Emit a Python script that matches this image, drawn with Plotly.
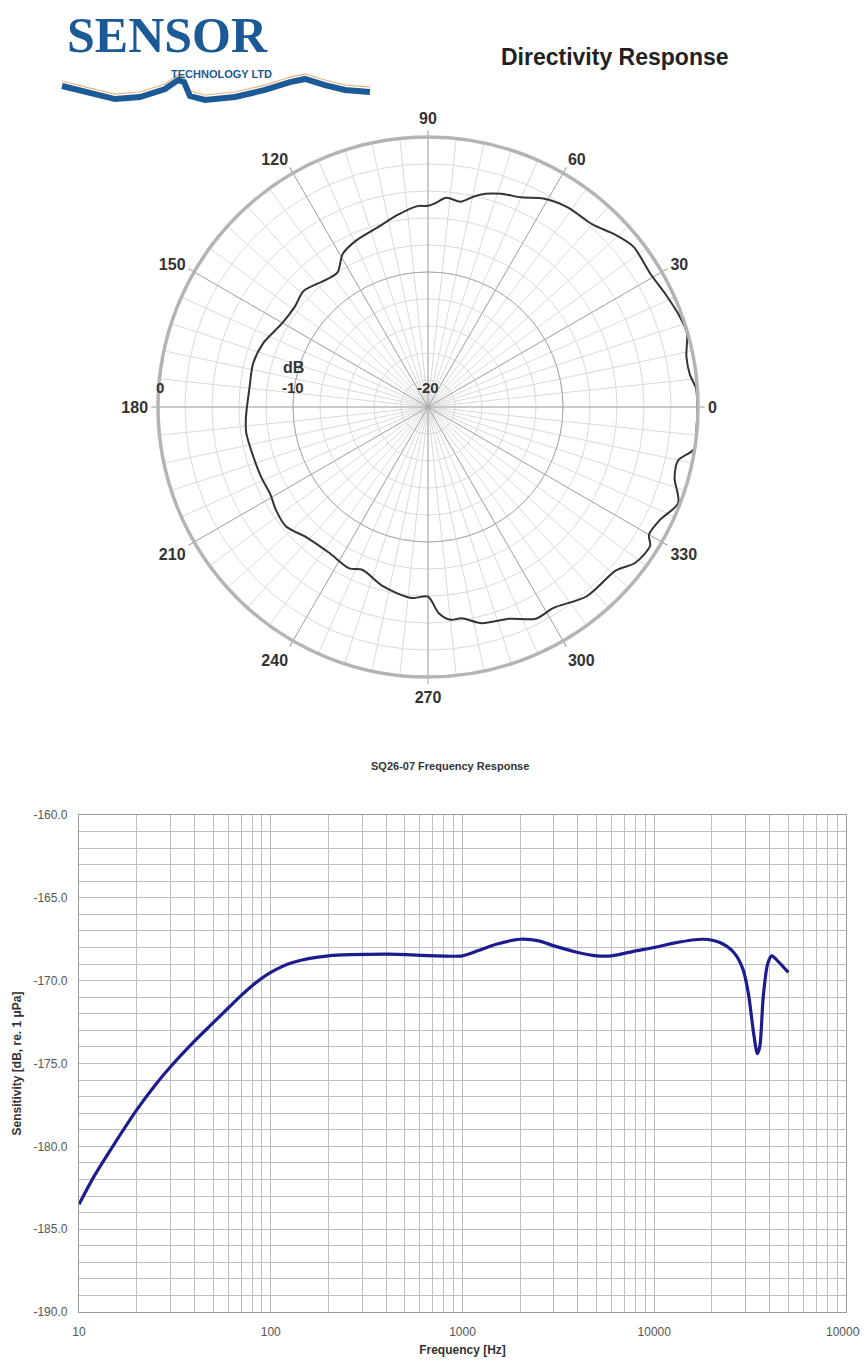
import plotly.graph_objects as go

# page body has an 8px margin, so the figure is drawn 8px in from the corner
OFF = 8
W, H = 868 - OFF, 1367 - OFF

# directivity response: angle (deg) vs level (dB)
dir_angle = [0, 4, 7, 11, 16, 20, 25, 31, 38, 43, 48, 55, 61, 66, 71, 75, 78, 81, 85, 88,
             90, 93, 99, 106, 113, 119, 124, 129, 137, 143, 150, 159, 166, 174, 183, 188,
             196, 203, 209, 214, 220, 227, 236, 244, 248, 256, 265, 270, 273, 276, 279,
             284, 291, 297, 302, 310, 319, 323, 328, 330, 334, 339, 344, 348, 351, 355, 360]
dir_db = [-0.05, -0.1, -0.45, -0.5, -0.05, -0.2, -0.5, -0.8, -0.7, -1.2, -1.8, -1.95, -2.35, -3.0, -3.3, -3.65, -4.1, -4.6, -4.45, -4.9,
          -5.1, -5.1, -5.6, -6.2, -6.55, -7.0, -8.0, -7.9, -7.4, -7.65, -7.55, -6.9, -6.65, -6.7, -6.5, -6.4,
          -6.55, -6.6, -6.65, -6.4, -6.25, -6.8, -6.95, -6.7, -7.0, -6.3, -5.8, -5.95, -4.7, -4.15, -4.15,
          -3.5, -3.2, -2.4, -2.45, -1.7, -1.55, -0.8, -0.6, -1.1, -0.9, -0.15, -1.0, -1.05, -0.05, -0.05, -0.05]
angle_ticks = [0, 30, 60, 90, 120, 150, 180, 210, 240, 270, 300, 330]
angle_text = ['0', '30', '60', '90', '120', '150', '180', '210', '240', '270', '300', '330']
radial_ticks = [-20, -10, 0]
radial_text = ['-20', '-10', '0']

# SQ26-07 frequency response
freq = [10, 12, 15, 20, 25, 30, 40, 50, 60, 70, 80, 100, 130, 200, 400, 1000, 1200,
        1500, 2000, 2500, 3000, 4000, 5000, 6000, 8000, 10000, 13000, 18000, 22000, 26000, 29000,
        31000, 33000, 34500, 35500, 37000, 39000, 41000, 44000, 50000]
sens = [-183.5, -181.8, -180.0, -177.8, -176.3, -175.2, -173.65, -172.55, -171.65, -170.9, -170.3, -169.5, -168.9, -168.5, -168.4, -168.5, -168.2,
        -167.8, -167.5, -167.6, -167.9, -168.3, -168.5, -168.5, -168.2, -168.0, -167.7, -167.5, -167.7, -168.3, -169.3,
        -170.8, -173.2, -174.4, -174.0, -171.0, -169.0, -168.5, -168.8, -169.5]
y_ticks = [-190, -185, -180, -175, -170, -165, -160]
y_text = ['-190.0', '-185.0', '-180.0', '-175.0', '-170.0', '-165.0', '-160.0']
x_ticks = [10, 100, 1000, 10000, 100000]
x_text = ['10', '100', '1000', '10000', '100000']


def px(x):
    return (x - OFF) / W


def py(y):
    return 1 - (y - OFF) / H


def path(points):
    return 'M ' + ' L '.join(f'{px(a):.4f},{py(b):.4f}' for a, b in points)


def label(x, y, text, size, color='#333333', family='Liberation Sans, Arial'):
    fig.add_annotation(x=px(x), y=py(y), xref='paper', yref='paper', showarrow=False,
                       xanchor='center', yanchor='middle', text=text,
                       font=dict(family=family, size=size, color=color, weight='bold'))


fig = go.Figure()

# lower polar only carries the light grid; keep a trace on it so it gets drawn
fig.add_trace(go.Scatterpolar(r=dir_db, theta=dir_angle, mode='lines', subplot='polar',
                              line=dict(color='rgba(0,0,0,0)', width=0),
                              showlegend=False, hoverinfo='skip'))
fig.add_trace(go.Scatterpolar(r=dir_db, theta=dir_angle, mode='lines', subplot='polar2',
                              line=dict(color='#333333', width=2, shape='spline', smoothing=0.8),
                              showlegend=False, hoverinfo='skip'))

fig.add_trace(go.Scatter(x=freq, y=sens, mode='lines',
                         line=dict(color='#1c1c8e', width=3.2, shape='spline', smoothing=0.8),
                         showlegend=False))

pdom = dict(x=[px(158), px(698)], y=[py(677), py(137)])
label_font = dict(family='Liberation Sans, Arial', size=16, color='#333333', weight='bold')
tick_font = dict(family='Liberation Sans, Arial', size=12, color='#555555')

fig.update_layout(
    width=W, height=H,
    margin=dict(l=0, r=0, t=0, b=0),
    paper_bgcolor='white', plot_bgcolor='white',
    polar=dict(
        domain=pdom, bgcolor='white',
        angularaxis=dict(rotation=0, direction='counterclockwise', tickmode='linear', tick0=0, dtick=6,
                         showticklabels=False, ticks='', gridcolor='#dadada', gridwidth=1, showline=False),
        radialaxis=dict(range=[-20, 0], tickmode='linear', tick0=-20, dtick=2, showticklabels=False,
                        ticks='', gridcolor='#dadada', gridwidth=1, showline=False),
    ),
    polar2=dict(
        domain=pdom, bgcolor='rgba(0,0,0,0)',
        angularaxis=dict(rotation=0, direction='counterclockwise', tickmode='array',
                         tickvals=angle_ticks, ticktext=angle_text,
                         gridcolor='#a8a8a8', gridwidth=1.3, showline=True, linecolor='#b4b4b4', linewidth=3.5,
                         ticks='outside', ticklen=5, tickcolor='#999999', tickfont=label_font),
        radialaxis=dict(range=[-20, 0], tickmode='array', tickvals=radial_ticks, ticktext=radial_text,
                        angle=180, showticklabels=False, showline=False, ticks='',
                        gridcolor='#a8a8a8', gridwidth=1.3),
    ),
    xaxis=dict(
        type='log', range=[1, 5], domain=[px(79), px(846)], automargin=False,
        tickmode='array', tickvals=x_ticks, ticktext=x_text, ticks='', ticklabelstandoff=8,
        tickfont=tick_font,
        showgrid=True, gridcolor='#bdbdbd', gridwidth=1,
        minor=dict(dtick='D1', showgrid=True, gridcolor='#bdbdbd', gridwidth=1, ticks=''),
        showline=True, mirror=True, linecolor='#9a9a9a', linewidth=1.3, zeroline=False,
        title=dict(text='Frequency [Hz]', standoff=8,
                   font=dict(family='Liberation Sans, Arial', size=12, color='#333333', weight='bold')),
    ),
    yaxis=dict(
        range=[-190, -160], domain=[py(1312), py(815)], automargin=False,
        tickmode='array', tickvals=y_ticks, ticktext=y_text, ticks='', ticklabelstandoff=8,
        tickfont=tick_font,
        showgrid=True, gridcolor='#bdbdbd', gridwidth=1,
        minor=dict(tickmode='linear', tick0=-190, dtick=1, showgrid=True, gridcolor='#bdbdbd', gridwidth=1, ticks=''),
        showline=True, mirror=True, linecolor='#9a9a9a', linewidth=1.3, zeroline=False,
        title=dict(text='Sensitivity [dB, re. 1 \u03bcPa]', standoff=9,
                   font=dict(family='Liberation Sans, Arial', size=12, color='#333333', weight='bold')),
    ),
)

# radial scale labels of the polar plot
for r_px, txt in zip([160, 293, 428], radial_text[::-1]):
    label(r_px, 388, txt, 15)
label(293, 367, 'dB', 16)

# titles
label(615, 57, 'Directivity Response', 23, '#222222')
label(450, 766, 'SQ26-07 Frequency Response', 11)

# logo
wave = [(62, 86), (90, 93), (115, 99), (140, 97), (165, 89), (178, 80), (184, 82), (190, 96),
        (205, 100), (235, 97), (265, 90), (290, 82), (305, 79), (325, 85), (345, 90), (370, 92)]
fig.add_shape(type='path', xref='paper', yref='paper', path=path([(a, b - 5) for a, b in wave]),
              line=dict(color='#e9b27a', width=1.2))
fig.add_shape(type='path', xref='paper', yref='paper', path=path(wave),
              line=dict(color='#1b5a96', width=6))
label(167, 35, 'SENSOR', 50, '#1b5a96', 'Liberation Serif, serif')
label(221, 74, 'TECHNOLOGY LTD', 11, '#1b5a96')

fig.write_html('out.html')
